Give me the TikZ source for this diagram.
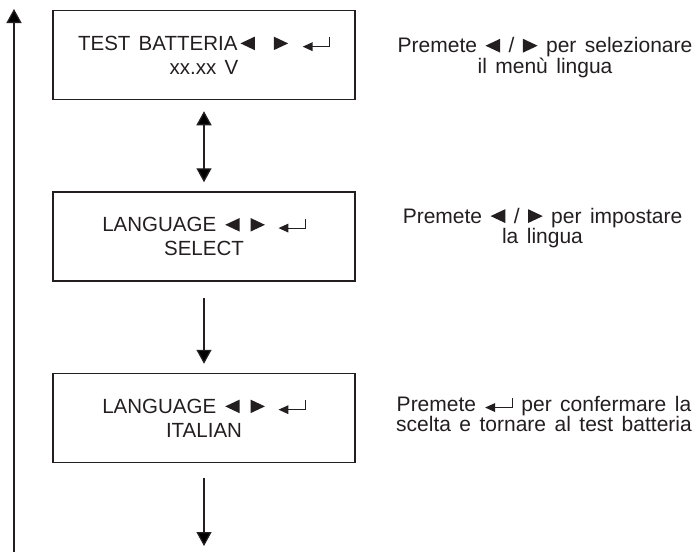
\documentclass[tikz,border=0pt]{standalone}
\usepackage{fontspec}
\setmainfont{Liberation Sans}
\newfontfamily\boxfont[WordSpace=1.3]{Liberation Sans}
\newfontfamily\notefont[WordSpace=1.45]{Liberation Sans}
\usetikzlibrary{arrows.meta}
\definecolor{ink}{HTML}{231F20}
\newcommand{\tril}{\tikz[baseline=0pt]\fill[ink] (0,0.33em) -- (0.7em,0.66em) -- (0.7em,0) -- cycle;}
\newcommand{\trir}{\tikz[baseline=0pt]\fill[ink] (0.7em,0.33em) -- (0,0.66em) -- (0,0) -- cycle;}
\newcommand{\retkey}{\tikz[baseline=0pt]\draw[ink,line width=1.1pt,-{Triangle[width=0.42em,length=0.48em]}] (1.3em,0.62em) -- (1.3em,0.17em) -- (0,0.17em);}
\tikzset{
  box/.style={draw=ink, line width=1.5pt, minimum width=302pt, minimum height=89pt,
    align=center, inner sep=0pt, text=ink,
    font=\boxfont\fontsize{20.5pt}{24pt}\selectfont},
  note/.style={align=center, inner sep=0pt, text=ink,
    font=\notefont\fontsize{21pt}{20.8pt}\selectfont},
  conn/.style={draw=ink, line width=1.3pt},
  tip/.tip={Triangle[width=15pt,length=14pt]}
}
\begin{document}
\begin{tikzpicture}[x=1pt,y=-1pt]
\useasboundingbox (0,0) rectangle (696,552);
\node[box] (b1) at (204,55) {TEST BATTERIA\hspace{3pt}\tril\hspace{19pt}\trir\hspace{14pt}\retkey\\xx.xx V};
\node[box] (b2) at (204,236.5) {LANGUAGE\hspace{9pt}\tril\hspace{11pt}\trir\hspace{13pt}\retkey\\SELECT};
\node[box] (b3) at (204,418) {LANGUAGE\hspace{9pt}\tril\hspace{11pt}\trir\hspace{13pt}\retkey\\ITALIAN};

\node[note] (n1) at (545,57.6) {Premete \tril\ / \trir\ per selezionare\\il menù lingua};
\node[note] (n2) at (542.5,228) {Premete \tril\ / \trir\ per impostare\\la lingua};
\node[note] (n3) at (544,414) {Premete \retkey\ per confermare la\\scelta e tornare al test batteria};

\coordinate (end) at (204,546);
\coordinate (lb) at (14,552);
\coordinate (lt) at (14,9);

\draw[conn, tip-tip, shorten <=11pt, shorten >=9pt] (b1) -- (b2);
\draw[conn, -tip, shorten <=16pt, shorten >=9pt] (b2) -- (b3);
\draw[conn, -tip, shorten <=15pt] (b3) -- (end);
\draw[conn, -tip] (lb) -- (lt);
\end{tikzpicture}
\end{document}
